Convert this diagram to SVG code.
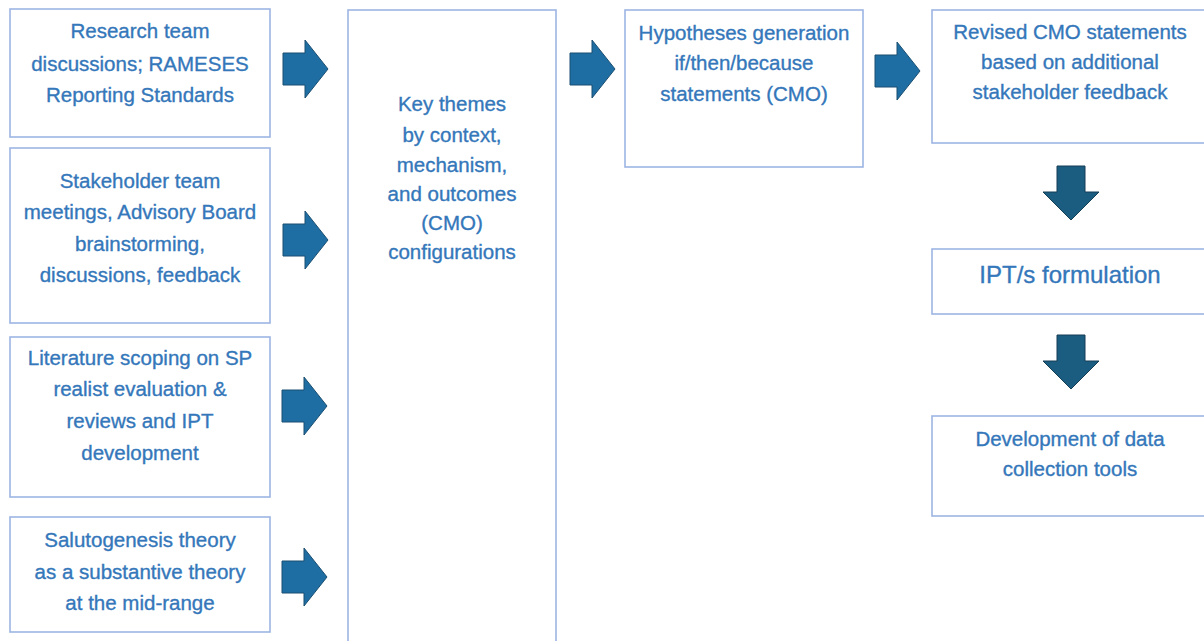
<svg xmlns="http://www.w3.org/2000/svg" width="1204" height="641" viewBox="0 0 1204 641">
<defs>
<style>
.box{fill:#fff;stroke:#9db5e3;stroke-width:1.6}
.t{font-family:"Liberation Sans",Arial,sans-serif;font-size:20.5px;fill:#3477ba;stroke:#3477ba;stroke-width:0.35;text-anchor:middle}
.big{font-size:24px}
.ra{fill:#1f6ea3;stroke:#1a4f73;stroke-width:1}
.da{fill:#1b5d80;stroke:#143f57;stroke-width:1}
</style>
<path id="rarrow" d="M0,-16 H22 V-29 L45,0 L22,29 V16 H0 Z"/>
<path id="darrow" d="M-14,0 H14 V26 H28 L0,54 L-28,26 H-14 Z"/>
</defs>
<rect width="1204" height="641" fill="#fff"/>
<g id="connectors">
<use href="#rarrow" class="ra" x="283" y="69"/>
<use href="#rarrow" class="ra" x="283" y="240"/>
<use href="#rarrow" class="ra" x="282" y="406"/>
<use href="#rarrow" class="ra" x="282" y="577"/>
<use href="#rarrow" class="ra" x="570" y="69"/>
<use href="#rarrow" class="ra" x="875" y="71"/>
<use href="#darrow" class="da" x="1071" y="166"/>
<use href="#darrow" class="da" x="1071" y="335"/>
</g>
<g id="n1"><rect class="box" x="10" y="9" width="260" height="128"/>
<text class="t" x="140" y="38">Research team</text>
<text class="t" x="140" y="71">discussions; RAMESES</text>
<text class="t" x="140" y="102">Reporting Standards</text></g>
<g id="n2"><rect class="box" x="10" y="148" width="260" height="175"/>
<text class="t" x="140" y="188">Stakeholder team</text>
<text class="t" x="140" y="219">meetings, Advisory Board</text>
<text class="t" x="140" y="251">brainstorming,</text>
<text class="t" x="140" y="282">discussions, feedback</text></g>
<g id="n3"><rect class="box" x="10" y="337" width="260" height="160"/>
<text class="t" x="140" y="365">Literature scoping on SP</text>
<text class="t" x="140" y="396">realist evaluation &amp;</text>
<text class="t" x="140" y="428">reviews and IPT</text>
<text class="t" x="140" y="460">development</text></g>
<g id="n4"><rect class="box" x="10" y="517" width="260" height="115"/>
<text class="t" x="140" y="547">Salutogenesis theory</text>
<text class="t" x="140" y="579">as a substantive theory</text>
<text class="t" x="140" y="610">at the mid-range</text></g>
<g id="n5"><rect class="box" x="348" y="10" width="208" height="640"/>
<text class="t" x="452" y="111">Key themes</text>
<text class="t" x="452" y="142">by context,</text>
<text class="t" x="452" y="172">mechanism,</text>
<text class="t" x="452" y="201">and outcomes</text>
<text class="t" x="452" y="230">(CMO)</text>
<text class="t" x="452" y="259">configurations</text></g>
<g id="n6"><rect class="box" x="625" y="10" width="238" height="157"/>
<text class="t" x="744" y="40">Hypotheses generation</text>
<text class="t" x="744" y="70">if/then/because</text>
<text class="t" x="744" y="101">statements (CMO)</text></g>
<g id="n7"><rect class="box" x="932" y="10" width="280" height="133"/>
<text class="t" x="1070" y="39">Revised CMO statements</text>
<text class="t" x="1070" y="69">based on additional</text>
<text class="t" x="1070" y="99">stakeholder feedback</text></g>
<g id="n8"><rect class="box" x="932" y="249" width="280" height="65"/>
<text class="t big" x="1070" y="283">IPT/s formulation</text></g>
<g id="n9"><rect class="box" x="932" y="416" width="280" height="100"/>
<text class="t" x="1070" y="446">Development of data</text>
<text class="t" x="1070" y="476">collection tools</text></g>
</svg>
